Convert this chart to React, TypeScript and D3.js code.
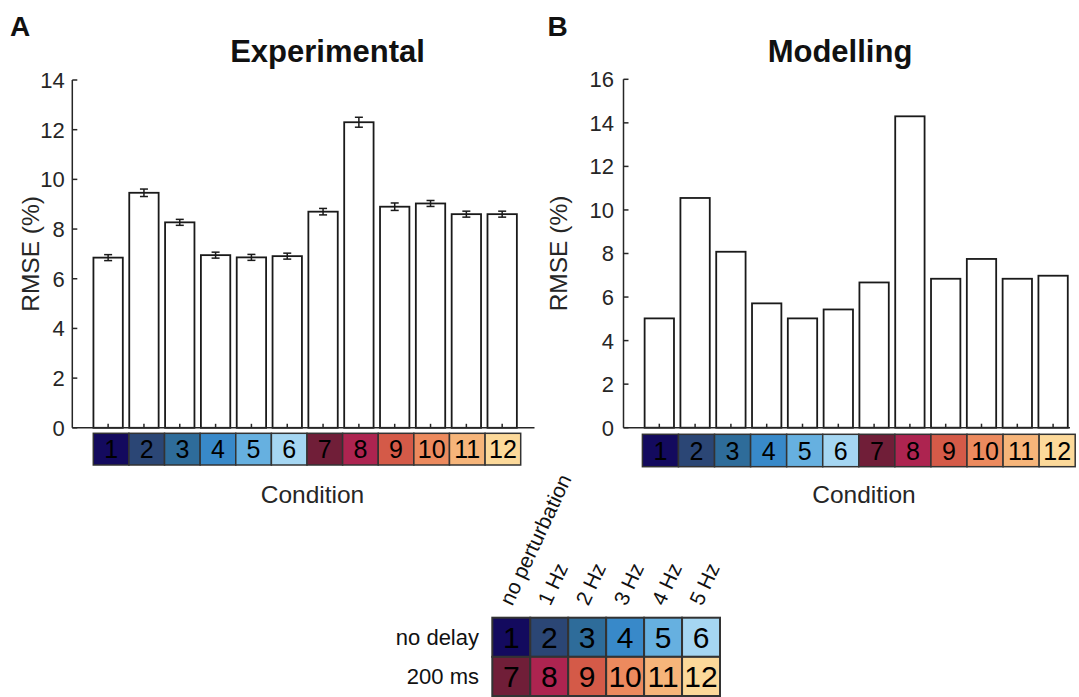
import React from "react";
import * as d3 from "d3";

const conditions = [1, 2, 3, 4, 5, 6, 7, 8, 9, 10, 11, 12];
const expValues = [6.85, 9.46, 8.27, 6.95, 6.86, 6.91, 8.7, 12.3, 8.9, 9.03, 8.6, 8.6];
const expErrors = [0.12, 0.15, 0.12, 0.12, 0.12, 0.12, 0.13, 0.2, 0.15, 0.12, 0.12, 0.12];
const modelValues = [5.02, 10.55, 8.08, 5.71, 5.02, 5.43, 6.67, 14.3, 6.84, 7.75, 6.84, 6.98];
const conditionColors = [
  "#130a5e", "#2b4675", "#2e6c9a", "#3889c9", "#66b0e0", "#a5d6f2",
  "#701e38", "#ad2450", "#d45a48", "#ec8a5e", "#f6b57a", "#fcd99a",
];
const expTicks = [0, 2, 4, 6, 8, 10, 12, 14];
const modelTicks = [0, 2, 4, 6, 8, 10, 12, 14, 16];
const perturbationLabels = ["no perturbation", "1 Hz", "2 Hz", "3 Hz", "4 Hz", "5 Hz"];
const delayLabels = ["no delay", "200 ms"];

const FONT = "'Liberation Sans', Arial, Helvetica, sans-serif";
const AX = "#262626";

type PanelProps = {
  letter: string;
  title: string;
  values: number[];
  errors?: number[];
  ticks: number[];
  x0: number;
  x1: number;
  axisEnd: number;
  y0: number;
  yTop: number;
  stripX0: number;
  stripX1: number;
  stripY: number;
  stripH: number;
  titleX: number;
  letterX: number;
  ylabelX: number;
  condX: number;
  tickGap: number;
};

function Panel(p: PanelProps) {
  const x = d3.scaleLinear().domain([0, 13]).range([p.x0, p.x1]);
  const yMax = p.ticks[p.ticks.length - 1];
  const y = d3.scaleLinear().domain([0, yMax]).range([p.y0, p.yTop]);
  const bw = (x(1) - x(0)) * 0.82;
  const sx = d3.scaleLinear().domain([0.5, 12.5]).range([p.stripX0, p.stripX1]);
  const cw = sx(1.5) - sx(0.5);
  return (
    <g>
      <text x={p.letterX} y={36} fontSize={28} fontWeight="bold" fontFamily={FONT} fill="#111">{p.letter}</text>
      <text x={p.titleX} y={62} fontSize={31} fontWeight="bold" fontFamily={FONT} textAnchor="middle" fill="#111">{p.title}</text>
      {/* bars */}
      {p.values.map((v, i) => (
        <rect key={"b" + i} x={x(conditions[i]) - bw / 2} y={y(v)} width={bw} height={y(0) - y(v)}
          fill="#fff" stroke="#1a1a1a" strokeWidth={1.8} />
      ))}
      {/* error bars */}
      {p.errors && p.values.map((v, i) => {
        const cx = x(conditions[i]);
        const e = p.errors![i];
        return (
          <g key={"e" + i} stroke="#1a1a1a" strokeWidth={1.5}>
            <line x1={cx} x2={cx} y1={y(v - e)} y2={y(v + e)} />
            <line x1={cx - 4} x2={cx + 4} y1={y(v - e)} y2={y(v - e)} />
            <line x1={cx - 4} x2={cx + 4} y1={y(v + e)} y2={y(v + e)} />
          </g>
        );
      })}
      {/* axes */}
      <line x1={p.x0} x2={p.x0} y1={p.y0} y2={y(yMax)} stroke={AX} strokeWidth={1.5} />
      <line x1={p.x0} x2={p.axisEnd} y1={p.y0} y2={p.y0} stroke={AX} strokeWidth={1.5} />
      {p.ticks.map((t) => (
        <g key={"t" + t}>
          <line x1={p.x0} x2={p.x0 + 5} y1={y(t)} y2={y(t)} stroke={AX} strokeWidth={1.5} />
          <text x={p.x0 - p.tickGap} y={y(t)} dy="0.36em" textAnchor="end" fontSize={22} fontFamily={FONT} fill={AX}>{t}</text>
        </g>
      ))}
      {conditions.map((c) => (
        <line key={"xt" + c} x1={x(c)} x2={x(c)} y1={p.y0} y2={p.y0 - 4} stroke={AX} strokeWidth={1.5} />
      ))}
      {/* colour strip */}
      {conditions.map((c, i) => (
        <g key={"s" + c}>
          <rect x={sx(c) - cw / 2} y={p.stripY} width={cw} height={p.stripH} fill={conditionColors[i]}
            stroke="#333" strokeWidth={1.5} />
          <text x={sx(c)} y={p.stripY + p.stripH / 2} dy="0.36em" textAnchor="middle" fontSize={25}
            fontFamily={FONT} fill="#000">{c}</text>
        </g>
      ))}
      <text transform={`translate(${p.ylabelX},${(p.y0 + y(yMax)) / 2}) rotate(-90)`} textAnchor="middle"
        dy="0.36em" fontSize={24.5} fontFamily={FONT} fill={AX}>RMSE (%)</text>
      <text x={p.condX} y={503} textAnchor="middle" fontSize={24.5} fontFamily={FONT} fill={AX}>Condition</text>
    </g>
  );
}

function Legend() {
  const gx0 = 492.3, gx1 = 720, gy0 = 617.7, gy1 = 696;
  const cx = d3.scaleBand<number>().domain([0, 1, 2, 3, 4, 5]).range([gx0, gx1]);
  const cy = d3.scaleBand<number>().domain([0, 1]).range([gy0, gy1]);
  return (
    <g>
      {delayLabels.map((lab, r) => (
        <text key={lab} x={479} y={cy(r)! + cy.bandwidth() / 2} dy="0.36em" textAnchor="end" fontSize={22}
          fontFamily={FONT} fill="#111">{lab}</text>
      ))}
      {perturbationLabels.map((lab, c) => (
        <text key={lab} transform={`translate(${cx(c)! + cx.bandwidth() / 2 + 1},${gy0 - 11}) rotate(-65)`}
          fontSize={21} fontFamily={FONT} fill="#111">{lab}</text>
      ))}
      {[0, 1].map((r) =>
        [0, 1, 2, 3, 4, 5].map((c) => {
          const k = r * 6 + c;
          return (
            <g key={"m" + k}>
              <rect x={cx(c)!} y={cy(r)!} width={cx.bandwidth()} height={cy.bandwidth()} fill={conditionColors[k]}
                stroke="#333" strokeWidth={2} />
              <text x={cx(c)! + cx.bandwidth() / 2} y={cy(r)! + cy.bandwidth() / 2} dy="0.36em" textAnchor="middle"
                fontSize={30} fontFamily={FONT} fill="#000">{conditions[k]}</text>
            </g>
          );
        })
      )}
    </g>
  );
}

export default function App() {
  return (
    <svg width={1079} height={697} style={{ position: "absolute", left: 0, top: 0, background: "#fff" }}>
      <rect width={1079} height={697} fill="#fff" />
      <Panel letter="A" title="Experimental" values={expValues} errors={expErrors} ticks={expTicks}
        x0={72.3} x1={538} axisEnd={534.5} y0={427.8} yTop={80} stripX0={93.3} stripX1={520.7} stripY={433.3} stripH={31.7}
        titleX={327.5} letterX={10} ylabelX={30} condX={312.5} tickGap={7.5} />
      <Panel letter="B" title="Modelling" values={modelValues} ticks={modelTicks}
        x0={623.5} x1={1088.9} axisEnd={1070} y0={427.7} yTop={79.3} stripX0={642.4} stripX1={1075.2} stripY={434.3} stripH={32.4}
        titleX={840} letterX={547.5} ylabelX={558} condX={864} tickGap={9.5} />
      <Legend />
    </svg>
  );
}
